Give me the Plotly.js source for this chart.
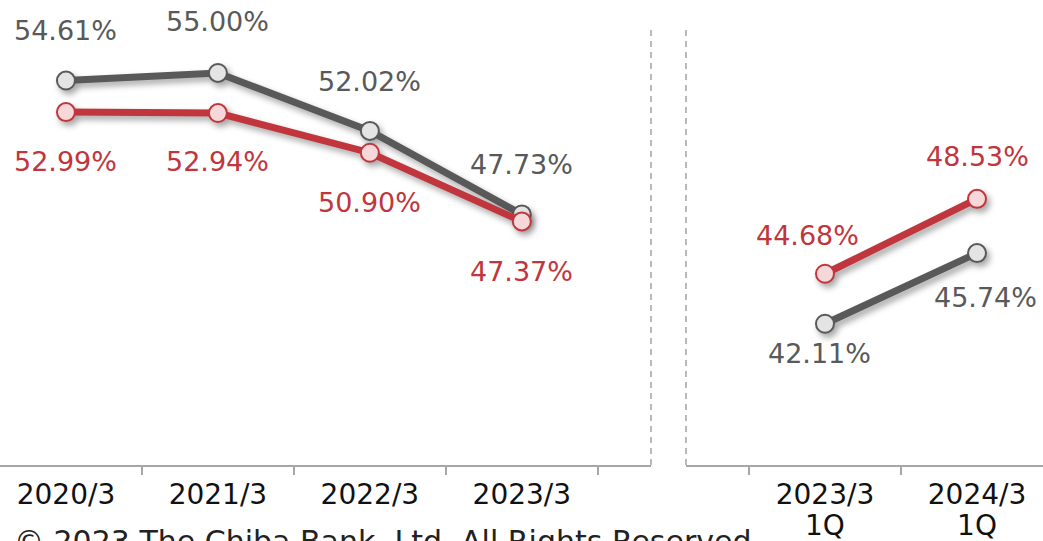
<!DOCTYPE html>
<html>
<head>
<meta charset="utf-8">
<script src="https://cdn.plot.ly/plotly-3.0.1.min.js"></script>
<style>
  html, body { margin: 0; padding: 0; background: #fff; }
  #chart { width: 1043px; height: 541px; }
  .scatterlayer .trace { filter: drop-shadow(3px 4px 3px rgba(0,0,0,0.35)); }
</style>
</head>
<body>
<div id="chart"></div>
<script>
// ---- data ----
const annualCats = ['2020/3', '2021/3', '2022/3', '2023/3'];
const quarterCats = ['2023/3<br>1Q', '2024/3<br>1Q'];
const grayAnnual = [54.61, 55.00, 52.02, 47.73];
const redAnnual = [52.99, 52.94, 50.90, 47.37];
const grayQuarter = [42.11, 45.74];
const redQuarter = [44.68, 48.53];

// ---- styles ----
const GRAY = '#595959', GRAY_FILL = '#E4E4E4';
const RED = '#C0363C', RED_FILL = '#F7D8DA';
const FONT = 'DejaVu Sans, Verdana, sans-serif';
const W = 1043, H = 541;
const yBottomPx = 465;          // pixel row of the x axis line
const plotH = yBottomPx;        // plot area spans rows 0..465

function lineTrace(x, y, color, fill, xa) {
  return {
    x: x, y: y, xaxis: xa, yaxis: 'y', type: 'scatter', mode: 'lines+markers',
    line: { color: color, width: 7 },
    marker: { size: 18, color: fill, line: { color: color, width: 2 } },
    hoverinfo: 'skip', showlegend: false, cliponaxis: false
  };
}

const traces = [
  lineTrace(annualCats, grayAnnual, GRAY, GRAY_FILL, 'x'),
  lineTrace(annualCats, redAnnual, RED, RED_FILL, 'x'),
  lineTrace(quarterCats, grayQuarter, GRAY, GRAY_FILL, 'x2'),
  lineTrace(quarterCats, redQuarter, RED, RED_FILL, 'x2')
];

// label offsets (pixels) per point
const annotations = [];
function addLabels(cats, vals, xref, color, offs) {
  cats.forEach((c, i) => {
    annotations.push({
      x: c, y: vals[i], xref: xref, yref: 'y',
      text: vals[i].toFixed(2) + '%', showarrow: false,
      xshift: offs[i][0], yshift: offs[i][1],
      font: { family: FONT, size: 27, color: color }
    });
  });
}
addLabels(annualCats, grayAnnual, 'x', GRAY, [[0, 50], [0, 51], [0, 49], [0, 50]]);
addLabels(annualCats, redAnnual, 'x', RED, [[0, -49], [0, -48], [0, -50], [0, -50]]);
addLabels(quarterCats, grayQuarter, 'x2', GRAY, [[-5, -30], [8, -44]]);
addLabels(quarterCats, redQuarter, 'x2', RED, [[-17, 38], [0, 42]]);

annotations.push({
  xref: 'paper', yref: 'paper', x: 12 / W, y: (plotH - 522) / plotH,
  xanchor: 'left', yanchor: 'top', showarrow: false,
  text: '© 2023 The Chiba Bank, Ltd. All Rights Reserved.',
  font: { family: FONT, size: 30, color: '#222' }
});

const axisBase = {
  type: 'category', showgrid: false, zeroline: false,
  showline: true, linecolor: '#A6A6A6', linewidth: 1.5,
  ticks: 'outside', tickson: 'boundaries', ticklen: 8, tickcolor: '#A6A6A6', tickwidth: 1.5,
  ticklabelstandoff: 4,
  tickfont: { family: FONT, size: 28, color: '#111' }, fixedrange: true
};

const layout = {
  width: W, height: H,
  margin: { l: 0, r: 0, t: 0, b: H - yBottomPx },
  paper_bgcolor: '#fff', plot_bgcolor: '#fff',
  showlegend: false,
  xaxis: Object.assign({}, axisBase, { domain: [0, 651 / W], range: [-0.434, 3.85] }),
  xaxis2: Object.assign({}, axisBase, { domain: [686 / W, 1], range: [-0.914, 1.434], anchor: 'y' }),
  yaxis: { range: [34.85, 58.75], visible: false, fixedrange: true },
  annotations: annotations,
  shapes: [651, 686].map(px => ({
    type: 'line', xref: 'paper', yref: 'paper',
    x0: px / W, x1: px / W, y0: 0, y1: (plotH - 25) / plotH,
    line: { color: '#8C8C8C', width: 1.2, dash: '6px,5px' }
  }))
};

Plotly.newPlot('chart', traces, layout, { staticPlot: true, displayModeBar: false }).then(gd => {
  // tighten line spacing of the two-line quarter tick labels
  gd.querySelectorAll('.x2tick text tspan.line').forEach((t, i) => {
    if (t.getAttribute('dy') && t.getAttribute('dy') !== '0em') t.setAttribute('dy', '1.12em');
  });
});
</script>
</body>
</html>
